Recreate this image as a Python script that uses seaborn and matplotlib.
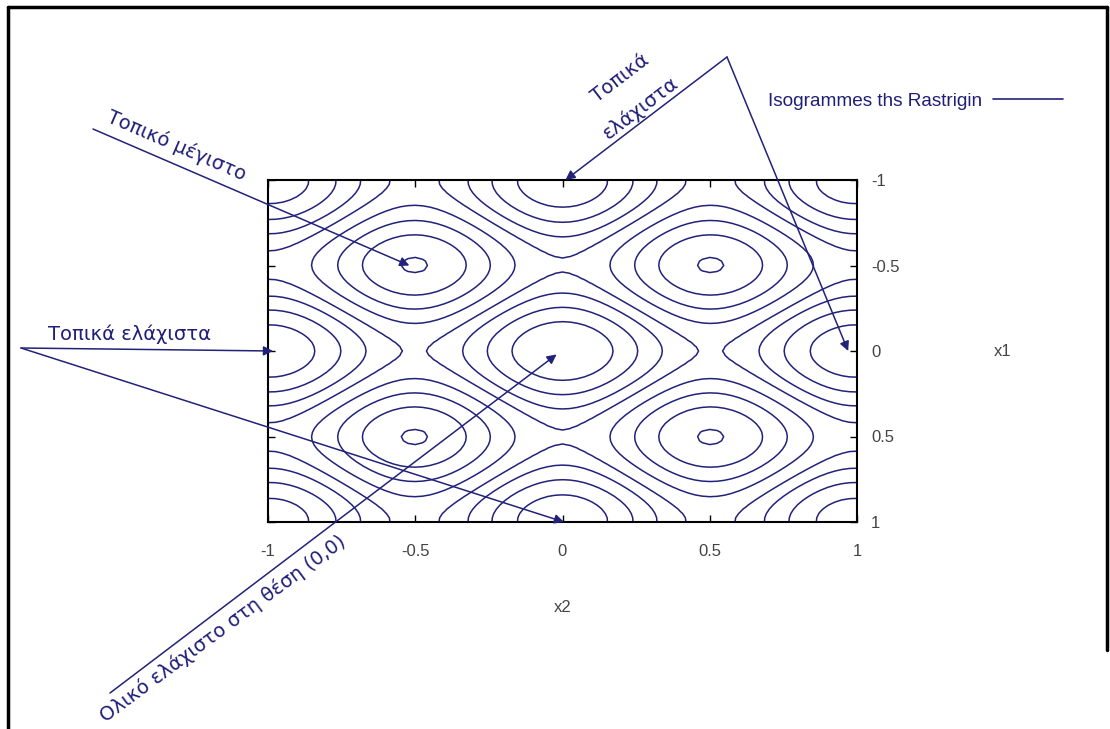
import numpy as np
import matplotlib
matplotlib.use("Agg")
import matplotlib.pyplot as plt
import seaborn as sns
from matplotlib.lines import Line2D

# ---------------- data ----------------
x2_grid = np.linspace(-1, 1, 81)          # horizontal variable
x1_grid = np.linspace(-1, 1, 81)          # vertical variable
contour_levels = [5.3, 10.4, 15.4, 19.9, 25, 30, 35, 40.1]
x_tick_values = [-1, -0.5, 0, 0.5, 1]
x_tick_labels = ["-1", "-0.5", "0", "0.5", "1"]
y_tick_values = [-1, -0.5, 0, 0.5, 1]
y_tick_labels = ["-1", "-0.5", "0", "0.5", "1"]
legend_label = "Isogrammes ths Rastrigin"

# Rastrigin surface on the grid
X2, X1 = np.meshgrid(x2_grid, x1_grid)
Z = 20 + X1**2 + X2**2 - 10 * (np.cos(2 * np.pi * X1) + np.cos(2 * np.pi * X2))

# ---------------- style ----------------
sns.set_style("white")
plt.rcParams["font.family"] = ["Liberation Sans", "DejaVu Sans"]

NAVY = "#22227a"
TEXT_NAVY = "#1f1f78"
GRAY = "#444444"
ANN_FONT = ["DejaVu Sans"]
W, H = 1110, 729

fig = plt.figure(figsize=(W / 100, H / 100), dpi=100)
fig.patch.set_facecolor("white")
ax = fig.add_axes([268 / W, 1 - 522 / H, (857 - 268) / W, (522 - 180) / H])

ax.contour(X2, X1, Z, levels=contour_levels, colors=NAVY, linewidths=1.1)
ax.set_xlim(-1, 1)
ax.set_ylim(1, -1)

for s in ax.spines.values():
    s.set_color("black")
    s.set_linewidth(1.5)
    s.set_visible(True)

ax.set_xticks(x_tick_values)
ax.set_xticklabels(x_tick_labels)
ax.set_yticks(y_tick_values)
ax.set_yticklabels(y_tick_labels)
ax.tick_params(direction="in", length=5, width=1, color="black",
               top=True, bottom=True, left=True, right=True,
               labelleft=False, labelright=True, labelsize=12, labelcolor=GRAY)
ax.tick_params(axis="x", pad=16)
ax.tick_params(axis="y", pad=10)

ax.set_xlabel("x2", fontsize=12, color=GRAY)
ax.xaxis.set_label_coords(0.5, -(607 - 522) / 342)
ax.xaxis.label.set_va("center")
ax.yaxis.set_label_position("right")
ax.set_ylabel("x1", fontsize=12, color=GRAY, rotation=0, ha="center", va="center")
ax.yaxis.set_label_coords((1003 - 268) / 589, 0.5)

# legend: text then a line sample
handle = Line2D([], [], color=NAVY, lw=1.2)
ax.legend([handle], [legend_label], loc="center right", markerfirst=False,
          frameon=False, fontsize=13.7, labelcolor=TEXT_NAVY,
          handlelength=3.7, handletextpad=0.55, borderpad=0, borderaxespad=0,
          bbox_to_anchor=(1063 / W, 1 - 101 / H), bbox_transform=fig.transFigure)


def px(x, y):
    """image pixel (from top-left) -> figure pixels"""
    return (x, H - y)


arrow_kw = dict(arrowstyle="-|>", color=NAVY, lw=1.1, shrinkA=0, shrinkB=0,
                mutation_scale=14)


def arrow(start_img, target_data):
    ax.annotate("", xy=target_data, xycoords="data",
                xytext=px(*start_img), textcoords="figure pixels",
                arrowprops=arrow_kw, annotation_clip=False)


def label(pos, text, rot=0.0, ha="left"):
    fig.text(*px(*pos), text, transform=None, fontsize=14, family=ANN_FONT,
             color=TEXT_NAVY, rotation=rot, rotation_mode="anchor",
             ha=ha, va="baseline")


# local maximum
arrow((93, 129), (-0.52, -0.5))
label((106, 121), "Τοπικό μέγιστο", rot=-23.4)
# top local minima
arrow((727, 57), (0.01, -1.0))
arrow((727, 57), (0.97, 0.0))
label((624, 83), "Τοπικά", rot=37.4, ha="center")
label((644, 113), "ελάχιστα", rot=37.4, ha="center")
# left local minima
arrow((21, 348), (-0.983, 0.0))
arrow((21, 348), (0.005, 1.0))
label((48, 340), "Τοπικά ελάχιστα")
# global minimum
arrow((110, 693), (-0.02, 0.02))
label((106, 723), "Ολικό ελάχιστο στη θέση (0,0)", rot=36.5)

# outer frame
fig.add_artist(Line2D([8 / W, 8 / W], [0, 1 - 7 / H], transform=fig.transFigure,
                      color="black", lw=2.5))
fig.add_artist(Line2D([8 / W, 1107 / W], [1 - 7 / H, 1 - 7 / H],
                      transform=fig.transFigure, color="black", lw=2.5))
fig.add_artist(Line2D([1107 / W, 1107 / W], [1 - 7 / H, 1 - 650 / H],
                      transform=fig.transFigure, color="black", lw=2.5))

fig.savefig("out.png", dpi=100)
